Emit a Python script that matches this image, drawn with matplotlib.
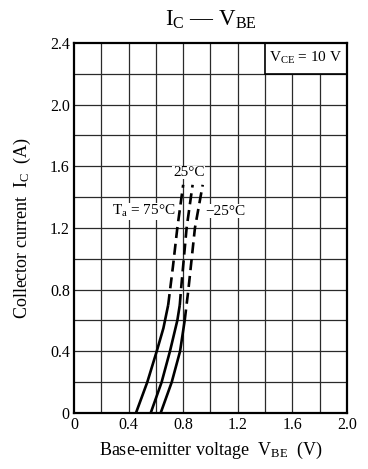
import numpy as np
import matplotlib
matplotlib.use("Agg")
import matplotlib.pyplot as plt
from matplotlib.patches import Rectangle

plt.rcParams['font.family'] = ['Liberation Serif', 'DejaVu Serif']
plt.rcParams['mathtext.fontset'] = 'custom'
plt.rcParams['mathtext.rm'] = 'Liberation Serif'
plt.rcParams['mathtext.it'] = 'Liberation Serif:italic'

# ---- data (V_BE in V, I_C in A) ----
vbe_75 = [0.454, 0.537, 0.606, 0.655, 0.69, 0.725, 0.757, 0.80]
ic_75 = [0.0, 0.2, 0.4, 0.55, 0.7, 0.95, 1.2, 1.48]
solid_75 = 5   # number of points in solid part

vbe_25 = [0.562, 0.642, 0.703, 0.757, 0.775, 0.784, 0.825, 0.869]
ic_25 = [0.0, 0.2, 0.4, 0.6, 0.7, 0.8, 1.2, 1.48]
solid_25 = 5

vbe_m25 = [0.635, 0.716, 0.777, 0.811, 0.838, 0.886, 0.943]
ic_m25 = [0.0, 0.2, 0.4, 0.6, 0.8, 1.2, 1.48]
solid_m25 = 4

curves = [(vbe_75, ic_75, solid_75), (vbe_25, ic_25, solid_25), (vbe_m25, ic_m25, solid_m25)]

x_ticks = [0, 0.4, 0.8, 1.2, 1.6, 2.0]
x_ticklabels = ['0', '0.4', '0.8', '1.2', '1.6', '2.0']
y_ticks = [0, 0.4, 0.8, 1.2, 1.6, 2.0, 2.4]
y_ticklabels = ['0', '0.4', '0.8', '1.2', '1.6', '2.0', '2.4']

fig = plt.figure(figsize=(3.68, 4.69), dpi=100)
ax = fig.add_axes([0.201, 0.1194, 0.742, 0.789])

ax.set_xlim(0, 2.0)
ax.set_ylim(0, 2.4)

# grid every 0.2
for gx in np.arange(0.2, 2.0, 0.2):
    ax.axvline(gx, color='#2a2a2a', lw=0.9, zorder=1)
for gy in np.arange(0.2, 2.4, 0.2):
    ax.axhline(gy, color='#2a2a2a', lw=0.9, zorder=1)

for v, i, n in curves:
    ax.plot(v[:n], i[:n], color='black', lw=1.9, zorder=3, solid_capstyle='butt')
    ax.plot(v[n - 1:], i[n - 1:], color='black', lw=1.9, zorder=3,
            dashes=(4.2, 2.2))

ax.set_xticks(x_ticks)
ax.set_xticklabels(x_ticklabels)
ax.set_yticks(y_ticks)
ax.set_yticklabels(y_ticklabels)
ax.tick_params(length=0, labelsize=11.5, pad=3)
for s in ax.spines.values():
    s.set_linewidth(1.6)
    s.set_zorder(5)

# curve labels
ax.text(0.84, 1.56, '25°C', ha='center', va='center', fontsize=11,
        bbox=dict(facecolor='white', edgecolor='none', pad=0.3), zorder=4)
ax.text(0.745, 1.31, r'$\mathrm{T_a}$ = 75°C', ha='right', va='center', fontsize=11,
        bbox=dict(facecolor='white', edgecolor='none', pad=0.3), zorder=4)
ax.text(0.965, 1.31, '−25°C', ha='left', va='center', fontsize=11,
        bbox=dict(facecolor='white', edgecolor='none', pad=0.3), zorder=4)

# condition box
ax.add_patch(Rectangle((1.4, 2.2), 0.6, 0.2, facecolor='white', edgecolor='black',
                       lw=1.2, zorder=4))
ax.text(1.7, 2.3, r'$\mathrm{V_{CE}}$ = 10 V', ha='center', va='center',
        fontsize=11, zorder=5)

ax.set_xlabel(r'Base-emitter voltage  $\mathrm{V_{BE}}$  (V)', fontsize=13, labelpad=5)
ax.set_ylabel(r'Collector current  $\mathrm{I_C}$  (A)', fontsize=13, labelpad=12)
fig.text(0.572, 0.957, r'$\mathrm{I_C}$ — $\mathrm{V_{BE}}$', ha='center', va='center',
         fontsize=16.5)

fig.savefig('out.png', dpi=100)
